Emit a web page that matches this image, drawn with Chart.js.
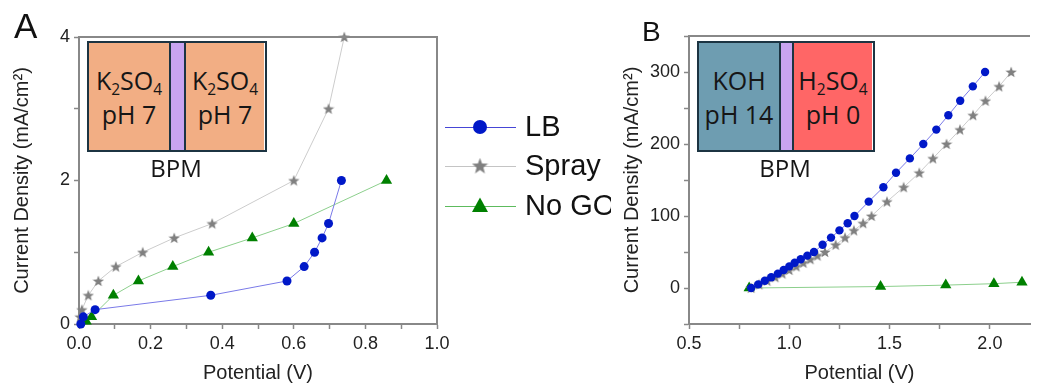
<!DOCTYPE html>
<html>
<head>
<meta charset="utf-8">
<script src="https://cdn.jsdelivr.net/npm/chart.js"></script>
<style>
  body { margin: 0; background: #fff; width: 1037px; height: 383px; overflow: hidden; position: relative; }
  canvas { position: absolute; top: 0; }
  .letra { position: absolute; font-family: "Liberation Sans", Arial, sans-serif; color: #111; line-height: 1; }
  .inset { position: absolute; top: 41px; height: 111px; display: flex; border: 2.5px solid #1c3442; box-sizing: border-box; }
  .cell { display: flex; flex-direction: column; justify-content: center; align-items: center;
          font-family: "Open Sans", sans-serif; font-size: 25px; line-height: 34px; color: #161616; }
  .strip { background: #c8a4f0; border-left: 2px solid #1c3442; border-right: 2px solid #1c3442; }
  .cell sub { font-size: 0.62em; vertical-align: -0.3em; line-height: 0; }
  .bpm { position: absolute; top: 156px; width: 80px; text-align: center; font-family: "Open Sans", sans-serif;
         font-size: 24px; line-height: 24px; color: #161616; }
</style>
</head>
<body>
<canvas id="graficoA" width="620" height="383" style="left:0px"></canvas>
<canvas id="graficoB" width="427" height="383" style="left:610px"></canvas>

<div class="letra" style="left:14px; top:8px; font-size:35px;">A</div>
<div class="letra" style="left:642px; top:18px; font-size:28px;">B</div>

<div class="inset" style="left:87px; width:180px;">
  <div class="cell" style="width:80px; background:#f2ae84;"><div>K<sub>2</sub>SO<sub>4</sub></div><div>pH 7</div></div>
  <div class="strip" style="width:13px;"></div>
  <div class="cell" style="width:78px; background:#f2ae84;"><div>K<sub>2</sub>SO<sub>4</sub></div><div>pH 7</div></div>
</div>
<div class="bpm" style="left:136px;">BPM</div>

<div class="inset" style="left:697px; width:178px;">
  <div class="cell" style="width:80px; background:#6e9db1;"><div>KOH</div><div>pH 14</div></div>
  <div class="strip" style="width:11px;"></div>
  <div class="cell" style="width:78px; background:#ff6666;"><div>H<sub>2</sub>SO<sub>4</sub></div><div>pH 0</div></div>
</div>
<div class="bpm" style="left:745px;">BPM</div>

<script>
// PAINEL A - K2SO4 pH 7
var lbA_x = [0.005, 0.012, 0.045, 0.368, 0.581, 0.629, 0.658, 0.679, 0.697, 0.733];
var lbA_y = [0.0, 0.1, 0.2, 0.4, 0.6, 0.8, 1.0, 1.2, 1.4, 2.0];
var sprayA_x = [0.003, 0.008, 0.026, 0.054, 0.103, 0.178, 0.266, 0.372, 0.600, 0.697, 0.741];
var sprayA_y = [0.1, 0.2, 0.4, 0.6, 0.8, 1.0, 1.2, 1.4, 2.0, 3.0, 4.0];
var noGoA_x = [0.02, 0.035, 0.096, 0.166, 0.262, 0.362, 0.484, 0.600, 0.859];
var noGoA_y = [0.04, 0.1, 0.4, 0.6, 0.8, 1.0, 1.2, 1.4, 2.0];

// PAINEL B - KOH / H2SO4
var lbB_x = [0.81, 0.845, 0.878, 0.91, 0.943, 0.972, 1.0, 1.027, 1.057, 1.09, 1.123, 1.166, 1.208, 1.25, 1.291,
             1.325, 1.396, 1.469, 1.532, 1.601, 1.668, 1.733, 1.793, 1.852, 1.915, 1.976];
var lbB_y = [0, 5, 10, 15, 20, 25, 30, 35, 40, 45, 50, 60, 70, 80, 90, 100, 120, 140, 160, 180, 200, 220, 240, 260, 280, 300];
var sprayB_x = [0.81, 0.85, 0.89, 0.93, 0.965, 1.0, 1.035, 1.07, 1.105, 1.14, 1.178, 1.231, 1.278, 1.322, 1.368,
                1.41, 1.487, 1.57, 1.648, 1.716, 1.784, 1.851, 1.916, 1.978, 2.046, 2.106];
var sprayB_y = [0, 5, 10, 15, 20, 25, 30, 35, 40, 45, 50, 60, 70, 80, 90, 100, 120, 140, 160, 180, 200, 220, 240, 260, 280, 300];
var noGoB_x = [0.80, 1.455, 1.78, 2.02, 2.16];
var noGoB_y = [0, 2, 4, 6, 8];

var nomes = ['LB', 'Spray', 'No GO'];
var ticksA_x = [0, 0.2, 0.4, 0.6, 0.8, 1.0];
var ticksA_y = [0, 2, 4];
var ticksB_x = [0.5, 1.0, 1.5, 2.0];
var ticksB_y = [0, 100, 200, 300];

var fonteEixo = '"Liberation Sans", Arial, sans-serif';
var corEixo = '#888888';

function pontos(xs, ys) {
  return xs.map(function (x, i) { return { x: x, y: ys[i] }; });
}

// estrela de 5 pontas cheia (o 'star' do Chart.js e so um asterisco)
function estrela(tam, cor) {
  var c = document.createElement('canvas');
  c.width = tam; c.height = tam;
  var g = c.getContext('2d');
  var r1 = tam / 2, r2 = tam / 2 * 0.42;
  g.beginPath();
  for (var i = 0; i < 10; i++) {
    var r = (i % 2 == 0) ? r1 : r2;
    var a = -Math.PI / 2 + i * Math.PI / 5;
    g.lineTo(tam / 2 + r * Math.cos(a), tam / 2 + 0.5 + r * Math.sin(a));
  }
  g.closePath();
  g.fillStyle = cor;
  g.fill();
  return c;
}
var estrelaPeq = estrela(12, '#808080');
var estrelaGde = estrela(17, '#808080');

function datasets(lx, ly, sx, sy, nx, ny, raio) {
  return [
    { label: nomes[0], data: pontos(lx, ly), showLine: true, borderColor: '#7a7ae8', borderWidth: 1,
      pointStyle: 'circle', pointRadius: raio, backgroundColor: '#0018c8', pointBorderColor: '#0018c8', pointBorderWidth: 0, clip: false },
    { label: nomes[1], data: pontos(sx, sy), showLine: true, borderColor: '#cccccc', borderWidth: 1,
      pointStyle: estrelaPeq, pointRadius: 6, clip: false },
    { label: nomes[2], data: pontos(nx, ny), showLine: true, borderColor: '#8ccf8c', borderWidth: 1,
      pointStyle: 'triangle', pointRadius: 6.5, backgroundColor: '#008000', pointBorderColor: '#008000', pointBorderWidth: 0, clip: false }
  ];
}

function eixo(min, max, passo, rotulos, casas, titulo, horizontal) {
  return {
    type: 'linear', min: min, max: max,
    ticks: {
      stepSize: passo, autoSkip: false, maxRotation: 0, includeBounds: false, padding: 4,
      color: '#222', font: { family: fonteEixo, size: 18 },
      callback: function (v) {
        for (var i = 0; i < rotulos.length; i++) {
          if (Math.abs(v - rotulos[i]) < 1e-6) return rotulos[i].toFixed(casas);
        }
        return '';
      }
    },
    grid: { drawOnChartArea: false, drawTicks: true, tickLength: 5, tickColor: corEixo, tickWidth: 1.5 },
    border: { color: corEixo, width: 2 },
    title: { display: true, text: titulo, color: '#222', font: { family: fonteEixo, size: 20, lineHeight: 1 },
             padding: horizontal ? { top: 0, bottom: 0 } : { top: 12, bottom: 0 } },
    afterFit: function (s) { if (horizontal) s.height = 59; else s.width = 79; }
  };
}

// moldura em cima (e na direita no painel A)
var moldura = {
  id: 'moldura',
  afterDraw: function (chart, args, opts) {
    var a = chart.chartArea, ctx = chart.ctx;
    ctx.save();
    ctx.strokeStyle = corEixo;
    ctx.lineWidth = 2;
    ctx.beginPath();
    ctx.moveTo(a.left, a.top);
    ctx.lineTo(a.right, a.top);
    if (opts.direita) ctx.lineTo(a.right, a.bottom);
    ctx.stroke();
    ctx.restore();
  }
};

// legenda no meio, entre os dois graficos (cortada na borda do painel B como no original)
var legenda = {
  id: 'legenda',
  afterDraw: function (chart) {
    var ctx = chart.ctx;
    var ys = [127, 166, 206];
    var cores = ['#4646d6', '#c4c4c4', '#5dbb5d'];
    ctx.save();
    ctx.beginPath();
    ctx.rect(438, 90, 173, 150);
    ctx.clip();
    for (var i = 0; i < 3; i++) {
      ctx.strokeStyle = cores[i];
      ctx.lineWidth = 1;
      ctx.beginPath();
      ctx.moveTo(445, ys[i] + 0.5);
      ctx.lineTo(516, ys[i] + 0.5);
      ctx.stroke();
      if (i == 0) {
        ctx.fillStyle = '#0018c8';
        ctx.beginPath();
        ctx.arc(480, ys[i], 7, 0, Math.PI * 2);
        ctx.fill();
      } else if (i == 1) {
        ctx.drawImage(estrelaGde, 480 - 8.5, ys[i] - 8.5);
      } else {
        ctx.fillStyle = '#008000';
        ctx.beginPath();
        ctx.moveTo(480, ys[i] - 8.5);
        ctx.lineTo(488, ys[i] + 6);
        ctx.lineTo(472, ys[i] + 6);
        ctx.closePath();
        ctx.fill();
      }
      ctx.fillStyle = '#111';
      ctx.font = '29px ' + fonteEixo;
      ctx.textBaseline = 'middle';
      ctx.fillText(nomes[i], 525, ys[i] + 1);
    }
    ctx.restore();
  }
};

var tituloY = 'Current Density (mA/cm\u00B2)';

new Chart(document.getElementById('graficoA'), {
  type: 'scatter',
  data: { datasets: datasets(lbA_x, lbA_y, sprayA_x, sprayA_y, noGoA_x, noGoA_y, 4.5) },
  options: {
    responsive: false, animation: false, devicePixelRatio: 1,
    layout: { padding: { top: 37, right: 183, left: 0, bottom: 0 } },
    elements: { line: { tension: 0 } },
    plugins: { legend: { display: false }, tooltip: { enabled: false }, moldura: { direita: true } },
    scales: {
      x: eixo(0, 1, 0.1, ticksA_x, 1, 'Potential (V)', true),
      y: eixo(0, 4, 1, ticksA_y, 0, tituloY, false)
    }
  },
  plugins: [moldura, legenda]
});

new Chart(document.getElementById('graficoB'), {
  type: 'scatter',
  data: { datasets: datasets(lbB_x, lbB_y, sprayB_x, sprayB_y, noGoB_x, noGoB_y, 4.2) },
  options: {
    responsive: false, animation: false, devicePixelRatio: 1,
    layout: { padding: { top: 36, right: 0, left: 0, bottom: 0 } },
    elements: { line: { tension: 0 } },
    plugins: { legend: { display: false }, tooltip: { enabled: false }, moldura: { direita: false } },
    scales: {
      x: eixo(0.5, 2.2, 0.25, ticksB_x, 1, 'Potential (V)', true),
      y: eixo(-50, 350, 50, ticksB_y, 0, tituloY, false)
    }
  },
  plugins: [moldura]
});
</script>
</body>
</html>
